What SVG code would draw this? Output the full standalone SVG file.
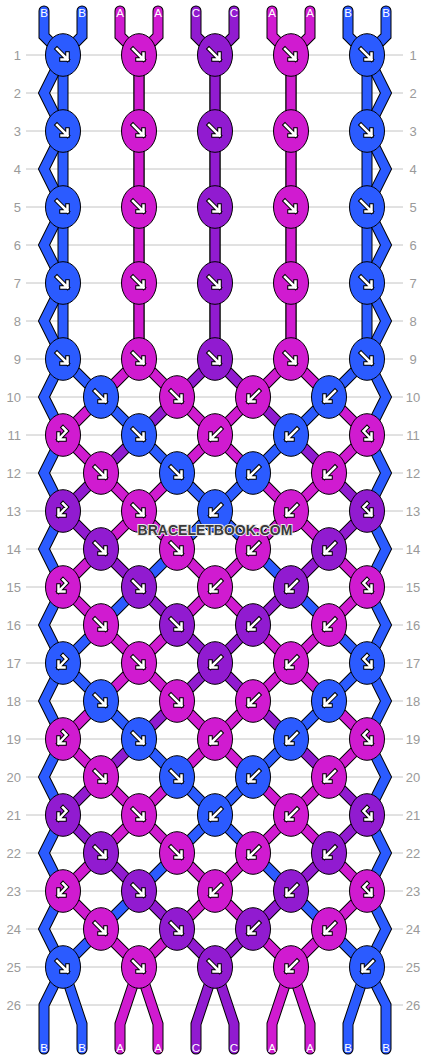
<svg xmlns="http://www.w3.org/2000/svg" xmlns:xlink="http://www.w3.org/1999/xlink" width="430" height="1060" viewBox="0 0 430 1060">
<style>
.grid line{stroke:#c4c4c4;stroke-width:1}
.rn{font-family:"Liberation Sans",Arial,sans-serif;font-size:13px;fill:#9a9a9a}
.rl{text-anchor:end}
.rr{text-anchor:middle}
.so{fill:none;stroke:#000;stroke-width:11;stroke-linejoin:miter;stroke-linecap:round}
.cB,.cA,.cC{fill:none;stroke-width:9;stroke-linejoin:miter;stroke-linecap:round}
.cB{stroke:#2b5bff}.cA{stroke:#d01bd0}.cC{stroke:#911bd0}
.kB,.kA,.kC{stroke:#000;stroke-width:1}
.kB{fill:#2b5bff}.kA{fill:#d01bd0}.kC{fill:#911bd0}
.ao{fill:none;stroke:#000;stroke-width:4.5;stroke-linecap:square;stroke-linejoin:miter}
.ai{fill:none;stroke:#fff;stroke-width:2.5;stroke-linecap:square;stroke-linejoin:miter}
.lb{font-family:"Liberation Sans",Arial,sans-serif;font-size:11.5px;fill:#fff;text-anchor:middle}
.wm{font-family:"Liberation Sans",Arial,sans-serif;font-size:14px;font-weight:bold;fill:#3a3a3a;stroke:#e8e8e8;stroke-width:2;paint-order:stroke;text-anchor:middle}
</style>
<defs>
<path id="pf" d="M-6,-6L4.5,4.5M4.5,-1.5V4.5H-1.5"/>
<path id="pb" d="M6,-6L-4.5,4.5M-4.5,-1.5V4.5H1.5"/>
<path id="pbf" d="M0,-7.5L3.5,-4L-4.5,4.5M-4.5,-1.5V4.5H1.5"/>
<path id="pfb" d="M0,-7.5L-3.5,-4L4.5,4.5M4.5,-1.5V4.5H-1.5"/>
<g id="f"><use href="#pf" class="ao"/><use href="#pf" class="ai"/></g>
<g id="b"><use href="#pb" class="ao"/><use href="#pb" class="ai"/></g>
<g id="bf"><use href="#pbf" class="ao"/><use href="#pbf" class="ai"/></g>
<g id="fb"><use href="#pfb" class="ao"/><use href="#pfb" class="ai"/></g>
<polyline id="t1" points="44,11 44,36 63,55 44,93 63,131 44,169 63,207 44,245 63,283 44,321 63,359 44,397 63,435 44,473 63,511 44,549 63,587 44,625 63,663 44,701 63,739 44,777 63,815 44,853 63,891 44,929 63,967 44,1005 44,1049"/>
<polyline id="t10" points="386,11 386,36 367,55 386,93 367,131 386,169 367,207 386,245 367,283 386,321 367,359 386,397 367,435 386,473 367,511 386,549 367,587 386,625 367,663 386,701 367,739 386,777 367,815 386,853 367,891 386,929 367,967 386,1005 386,1049"/>
<polyline id="t2" points="82,11 82,36 63,55 63,359 101,397 139,435 177,473 215,511 177,549 139,587 101,625 63,663 101,701 139,739 177,777 215,815 177,853 139,891 101,929 63,967 82,1024 82,1049"/>
<polyline id="t9" points="348,11 348,36 367,55 367,359 329,397 291,435 253,473 215,511 253,549 291,587 329,625 367,663 329,701 291,739 253,777 215,815 253,853 291,891 329,929 367,967 348,1024 348,1049"/>
<polyline id="t3" points="120,11 120,36 139,55 139,359 101,397 63,435 101,473 139,511 101,549 63,587 101,625 139,663 101,701 63,739 101,777 139,815 101,853 63,891 101,929 139,967 120,1024 120,1049"/>
<polyline id="t8" points="310,11 310,36 291,55 291,359 329,397 367,435 329,473 291,511 329,549 367,587 329,625 291,663 329,701 367,739 329,777 291,815 329,853 367,891 329,929 291,967 310,1024 310,1049"/>
<polyline id="t4" points="158,11 158,36 139,55 139,359 177,397 215,435 177,473 139,511 177,549 215,587 177,625 139,663 177,701 215,739 177,777 139,815 177,853 215,891 177,929 139,967 158,1024 158,1049"/>
<polyline id="t7" points="272,11 272,36 291,55 291,359 253,397 215,435 253,473 291,511 253,549 215,587 253,625 291,663 253,701 215,739 253,777 291,815 253,853 215,891 253,929 291,967 272,1024 272,1049"/>
<polyline id="t5" points="196,11 196,36 215,55 215,359 177,397 139,435 101,473 63,511 101,549 139,587 177,625 215,663 177,701 139,739 101,777 63,815 101,853 139,891 177,929 215,967 196,1024 196,1049"/>
<polyline id="t6" points="234,11 234,36 215,55 215,359 253,397 291,435 329,473 367,511 329,549 291,587 253,625 215,663 253,701 291,739 329,777 367,815 329,853 291,891 253,929 215,967 234,1024 234,1049"/>
</defs>
<rect width="430" height="1060" fill="#fff"/>
<g class="grid">
<line x1="26" y1="55" x2="403" y2="55"/><line x1="26" y1="93" x2="403" y2="93"/><line x1="26" y1="131" x2="403" y2="131"/><line x1="26" y1="169" x2="403" y2="169"/><line x1="26" y1="207" x2="403" y2="207"/><line x1="26" y1="245" x2="403" y2="245"/><line x1="26" y1="283" x2="403" y2="283"/><line x1="26" y1="321" x2="403" y2="321"/><line x1="26" y1="359" x2="403" y2="359"/><line x1="26" y1="397" x2="403" y2="397"/><line x1="26" y1="435" x2="403" y2="435"/><line x1="26" y1="473" x2="403" y2="473"/><line x1="26" y1="511" x2="403" y2="511"/><line x1="26" y1="549" x2="403" y2="549"/><line x1="26" y1="587" x2="403" y2="587"/><line x1="26" y1="625" x2="403" y2="625"/><line x1="26" y1="663" x2="403" y2="663"/><line x1="26" y1="701" x2="403" y2="701"/><line x1="26" y1="739" x2="403" y2="739"/><line x1="26" y1="777" x2="403" y2="777"/><line x1="26" y1="815" x2="403" y2="815"/><line x1="26" y1="853" x2="403" y2="853"/><line x1="26" y1="891" x2="403" y2="891"/><line x1="26" y1="929" x2="403" y2="929"/><line x1="26" y1="967" x2="403" y2="967"/><line x1="26" y1="1005" x2="403" y2="1005"/>
</g>
<g class="rn">
<text class="rl" x="21" y="59.6">1</text><text class="rl" x="21" y="97.6">2</text><text class="rl" x="21" y="135.6">3</text><text class="rl" x="21" y="173.6">4</text><text class="rl" x="21" y="211.6">5</text><text class="rl" x="21" y="249.6">6</text><text class="rl" x="21" y="287.6">7</text><text class="rl" x="21" y="325.6">8</text><text class="rl" x="21" y="363.6">9</text><text class="rl" x="21" y="401.6">10</text><text class="rl" x="21" y="439.6">11</text><text class="rl" x="21" y="477.6">12</text><text class="rl" x="21" y="515.6">13</text><text class="rl" x="21" y="553.6">14</text><text class="rl" x="21" y="591.6">15</text><text class="rl" x="21" y="629.6">16</text><text class="rl" x="21" y="667.6">17</text><text class="rl" x="21" y="705.6">18</text><text class="rl" x="21" y="743.6">19</text><text class="rl" x="21" y="781.6">20</text><text class="rl" x="21" y="819.6">21</text><text class="rl" x="21" y="857.6">22</text><text class="rl" x="21" y="895.6">23</text><text class="rl" x="21" y="933.6">24</text><text class="rl" x="21" y="971.6">25</text><text class="rl" x="21" y="1009.6">26</text>
<text class="rr" x="413" y="59.6">1</text><text class="rr" x="413" y="97.6">2</text><text class="rr" x="413" y="135.6">3</text><text class="rr" x="413" y="173.6">4</text><text class="rr" x="413" y="211.6">5</text><text class="rr" x="413" y="249.6">6</text><text class="rr" x="413" y="287.6">7</text><text class="rr" x="413" y="325.6">8</text><text class="rr" x="413" y="363.6">9</text><text class="rr" x="413" y="401.6">10</text><text class="rr" x="413" y="439.6">11</text><text class="rr" x="413" y="477.6">12</text><text class="rr" x="413" y="515.6">13</text><text class="rr" x="413" y="553.6">14</text><text class="rr" x="413" y="591.6">15</text><text class="rr" x="413" y="629.6">16</text><text class="rr" x="413" y="667.6">17</text><text class="rr" x="413" y="705.6">18</text><text class="rr" x="413" y="743.6">19</text><text class="rr" x="413" y="781.6">20</text><text class="rr" x="413" y="819.6">21</text><text class="rr" x="413" y="857.6">22</text><text class="rr" x="413" y="895.6">23</text><text class="rr" x="413" y="933.6">24</text><text class="rr" x="413" y="971.6">25</text><text class="rr" x="413" y="1009.6">26</text>
</g>
<g id="connectors">
<use href="#t5" class="so"/><use href="#t5" class="cC"/>
<use href="#t6" class="so"/><use href="#t6" class="cC"/>
<use href="#t4" class="so"/><use href="#t4" class="cA"/>
<use href="#t7" class="so"/><use href="#t7" class="cA"/>
<use href="#t3" class="so"/><use href="#t3" class="cA"/>
<use href="#t8" class="so"/><use href="#t8" class="cA"/>
<use href="#t2" class="so"/><use href="#t2" class="cB"/>
<use href="#t9" class="so"/><use href="#t9" class="cB"/>
<use href="#t1" class="so"/><use href="#t1" class="cB"/>
<use href="#t10" class="so"/><use href="#t10" class="cB"/>
</g>
<g id="strand-labels" class="lb">
<text x="44" y="17">B</text><text x="82" y="17">B</text><text x="120" y="17">A</text><text x="158" y="17">A</text><text x="196" y="17">C</text><text x="234" y="17">C</text><text x="272" y="17">A</text><text x="310" y="17">A</text><text x="348" y="17">B</text><text x="386" y="17">B</text>
<text x="44" y="1052">B</text><text x="82" y="1052">B</text><text x="120" y="1052">A</text><text x="158" y="1052">A</text><text x="196" y="1052">C</text><text x="234" y="1052">C</text><text x="272" y="1052">A</text><text x="310" y="1052">A</text><text x="348" y="1052">B</text><text x="386" y="1052">B</text>
</g>
<g id="knots">
<g id="k1-1"><ellipse class="kB" cx="63" cy="55" rx="17.5" ry="21.3"/><use href="#f" x="63" y="55"/></g>
<g id="k1-2"><ellipse class="kA" cx="139" cy="55" rx="17.5" ry="21.3"/><use href="#f" x="139" y="55"/></g>
<g id="k1-3"><ellipse class="kC" cx="215" cy="55" rx="17.5" ry="21.3"/><use href="#f" x="215" y="55"/></g>
<g id="k1-4"><ellipse class="kA" cx="291" cy="55" rx="17.5" ry="21.3"/><use href="#f" x="291" y="55"/></g>
<g id="k1-5"><ellipse class="kB" cx="367" cy="55" rx="17.5" ry="21.3"/><use href="#f" x="367" y="55"/></g>
<g id="k3-1"><ellipse class="kB" cx="63" cy="131" rx="17.5" ry="21.3"/><use href="#f" x="63" y="131"/></g>
<g id="k3-2"><ellipse class="kA" cx="139" cy="131" rx="17.5" ry="21.3"/><use href="#f" x="139" y="131"/></g>
<g id="k3-3"><ellipse class="kC" cx="215" cy="131" rx="17.5" ry="21.3"/><use href="#f" x="215" y="131"/></g>
<g id="k3-4"><ellipse class="kA" cx="291" cy="131" rx="17.5" ry="21.3"/><use href="#f" x="291" y="131"/></g>
<g id="k3-5"><ellipse class="kB" cx="367" cy="131" rx="17.5" ry="21.3"/><use href="#f" x="367" y="131"/></g>
<g id="k5-1"><ellipse class="kB" cx="63" cy="207" rx="17.5" ry="21.3"/><use href="#f" x="63" y="207"/></g>
<g id="k5-2"><ellipse class="kA" cx="139" cy="207" rx="17.5" ry="21.3"/><use href="#f" x="139" y="207"/></g>
<g id="k5-3"><ellipse class="kC" cx="215" cy="207" rx="17.5" ry="21.3"/><use href="#f" x="215" y="207"/></g>
<g id="k5-4"><ellipse class="kA" cx="291" cy="207" rx="17.5" ry="21.3"/><use href="#f" x="291" y="207"/></g>
<g id="k5-5"><ellipse class="kB" cx="367" cy="207" rx="17.5" ry="21.3"/><use href="#f" x="367" y="207"/></g>
<g id="k7-1"><ellipse class="kB" cx="63" cy="283" rx="17.5" ry="21.3"/><use href="#f" x="63" y="283"/></g>
<g id="k7-2"><ellipse class="kA" cx="139" cy="283" rx="17.5" ry="21.3"/><use href="#f" x="139" y="283"/></g>
<g id="k7-3"><ellipse class="kC" cx="215" cy="283" rx="17.5" ry="21.3"/><use href="#f" x="215" y="283"/></g>
<g id="k7-4"><ellipse class="kA" cx="291" cy="283" rx="17.5" ry="21.3"/><use href="#f" x="291" y="283"/></g>
<g id="k7-5"><ellipse class="kB" cx="367" cy="283" rx="17.5" ry="21.3"/><use href="#f" x="367" y="283"/></g>
<g id="k9-1"><ellipse class="kB" cx="63" cy="359" rx="17.5" ry="21.3"/><use href="#f" x="63" y="359"/></g>
<g id="k9-2"><ellipse class="kA" cx="139" cy="359" rx="17.5" ry="21.3"/><use href="#f" x="139" y="359"/></g>
<g id="k9-3"><ellipse class="kC" cx="215" cy="359" rx="17.5" ry="21.3"/><use href="#f" x="215" y="359"/></g>
<g id="k9-4"><ellipse class="kA" cx="291" cy="359" rx="17.5" ry="21.3"/><use href="#f" x="291" y="359"/></g>
<g id="k9-5"><ellipse class="kB" cx="367" cy="359" rx="17.5" ry="21.3"/><use href="#f" x="367" y="359"/></g>
<g id="k10-1"><ellipse class="kB" cx="101" cy="397" rx="17.5" ry="21.3"/><use href="#f" x="101" y="397"/></g>
<g id="k10-2"><ellipse class="kA" cx="177" cy="397" rx="17.5" ry="21.3"/><use href="#f" x="177" y="397"/></g>
<g id="k10-3"><ellipse class="kA" cx="253" cy="397" rx="17.5" ry="21.3"/><use href="#b" x="253" y="397"/></g>
<g id="k10-4"><ellipse class="kB" cx="329" cy="397" rx="17.5" ry="21.3"/><use href="#b" x="329" y="397"/></g>
<g id="k11-1"><ellipse class="kA" cx="63" cy="435" rx="17.5" ry="21.3"/><use href="#bf" x="63" y="435"/></g>
<g id="k11-2"><ellipse class="kB" cx="139" cy="435" rx="17.5" ry="21.3"/><use href="#f" x="139" y="435"/></g>
<g id="k11-3"><ellipse class="kA" cx="215" cy="435" rx="17.5" ry="21.3"/><use href="#b" x="215" y="435"/></g>
<g id="k11-4"><ellipse class="kB" cx="291" cy="435" rx="17.5" ry="21.3"/><use href="#b" x="291" y="435"/></g>
<g id="k11-5"><ellipse class="kA" cx="367" cy="435" rx="17.5" ry="21.3"/><use href="#fb" x="367" y="435"/></g>
<g id="k12-1"><ellipse class="kA" cx="101" cy="473" rx="17.5" ry="21.3"/><use href="#f" x="101" y="473"/></g>
<g id="k12-2"><ellipse class="kB" cx="177" cy="473" rx="17.5" ry="21.3"/><use href="#f" x="177" y="473"/></g>
<g id="k12-3"><ellipse class="kB" cx="253" cy="473" rx="17.5" ry="21.3"/><use href="#b" x="253" y="473"/></g>
<g id="k12-4"><ellipse class="kA" cx="329" cy="473" rx="17.5" ry="21.3"/><use href="#b" x="329" y="473"/></g>
<g id="k13-1"><ellipse class="kC" cx="63" cy="511" rx="17.5" ry="21.3"/><use href="#bf" x="63" y="511"/></g>
<g id="k13-2"><ellipse class="kA" cx="139" cy="511" rx="17.5" ry="21.3"/><use href="#f" x="139" y="511"/></g>
<g id="k13-3"><ellipse class="kB" cx="215" cy="511" rx="17.5" ry="21.3"/><use href="#b" x="215" y="511"/></g>
<g id="k13-4"><ellipse class="kA" cx="291" cy="511" rx="17.5" ry="21.3"/><use href="#b" x="291" y="511"/></g>
<g id="k13-5"><ellipse class="kC" cx="367" cy="511" rx="17.5" ry="21.3"/><use href="#fb" x="367" y="511"/></g>
<g id="k14-1"><ellipse class="kC" cx="101" cy="549" rx="17.5" ry="21.3"/><use href="#f" x="101" y="549"/></g>
<g id="k14-2"><ellipse class="kA" cx="177" cy="549" rx="17.5" ry="21.3"/><use href="#f" x="177" y="549"/></g>
<g id="k14-3"><ellipse class="kA" cx="253" cy="549" rx="17.5" ry="21.3"/><use href="#b" x="253" y="549"/></g>
<g id="k14-4"><ellipse class="kC" cx="329" cy="549" rx="17.5" ry="21.3"/><use href="#b" x="329" y="549"/></g>
<g id="k15-1"><ellipse class="kA" cx="63" cy="587" rx="17.5" ry="21.3"/><use href="#bf" x="63" y="587"/></g>
<g id="k15-2"><ellipse class="kC" cx="139" cy="587" rx="17.5" ry="21.3"/><use href="#f" x="139" y="587"/></g>
<g id="k15-3"><ellipse class="kA" cx="215" cy="587" rx="17.5" ry="21.3"/><use href="#b" x="215" y="587"/></g>
<g id="k15-4"><ellipse class="kC" cx="291" cy="587" rx="17.5" ry="21.3"/><use href="#b" x="291" y="587"/></g>
<g id="k15-5"><ellipse class="kA" cx="367" cy="587" rx="17.5" ry="21.3"/><use href="#fb" x="367" y="587"/></g>
<g id="k16-1"><ellipse class="kA" cx="101" cy="625" rx="17.5" ry="21.3"/><use href="#f" x="101" y="625"/></g>
<g id="k16-2"><ellipse class="kC" cx="177" cy="625" rx="17.5" ry="21.3"/><use href="#f" x="177" y="625"/></g>
<g id="k16-3"><ellipse class="kC" cx="253" cy="625" rx="17.5" ry="21.3"/><use href="#b" x="253" y="625"/></g>
<g id="k16-4"><ellipse class="kA" cx="329" cy="625" rx="17.5" ry="21.3"/><use href="#b" x="329" y="625"/></g>
<g id="k17-1"><ellipse class="kB" cx="63" cy="663" rx="17.5" ry="21.3"/><use href="#bf" x="63" y="663"/></g>
<g id="k17-2"><ellipse class="kA" cx="139" cy="663" rx="17.5" ry="21.3"/><use href="#f" x="139" y="663"/></g>
<g id="k17-3"><ellipse class="kC" cx="215" cy="663" rx="17.5" ry="21.3"/><use href="#b" x="215" y="663"/></g>
<g id="k17-4"><ellipse class="kA" cx="291" cy="663" rx="17.5" ry="21.3"/><use href="#b" x="291" y="663"/></g>
<g id="k17-5"><ellipse class="kB" cx="367" cy="663" rx="17.5" ry="21.3"/><use href="#fb" x="367" y="663"/></g>
<g id="k18-1"><ellipse class="kB" cx="101" cy="701" rx="17.5" ry="21.3"/><use href="#f" x="101" y="701"/></g>
<g id="k18-2"><ellipse class="kA" cx="177" cy="701" rx="17.5" ry="21.3"/><use href="#f" x="177" y="701"/></g>
<g id="k18-3"><ellipse class="kA" cx="253" cy="701" rx="17.5" ry="21.3"/><use href="#b" x="253" y="701"/></g>
<g id="k18-4"><ellipse class="kB" cx="329" cy="701" rx="17.5" ry="21.3"/><use href="#b" x="329" y="701"/></g>
<g id="k19-1"><ellipse class="kA" cx="63" cy="739" rx="17.5" ry="21.3"/><use href="#bf" x="63" y="739"/></g>
<g id="k19-2"><ellipse class="kB" cx="139" cy="739" rx="17.5" ry="21.3"/><use href="#f" x="139" y="739"/></g>
<g id="k19-3"><ellipse class="kA" cx="215" cy="739" rx="17.5" ry="21.3"/><use href="#b" x="215" y="739"/></g>
<g id="k19-4"><ellipse class="kB" cx="291" cy="739" rx="17.5" ry="21.3"/><use href="#b" x="291" y="739"/></g>
<g id="k19-5"><ellipse class="kA" cx="367" cy="739" rx="17.5" ry="21.3"/><use href="#fb" x="367" y="739"/></g>
<g id="k20-1"><ellipse class="kA" cx="101" cy="777" rx="17.5" ry="21.3"/><use href="#f" x="101" y="777"/></g>
<g id="k20-2"><ellipse class="kB" cx="177" cy="777" rx="17.5" ry="21.3"/><use href="#f" x="177" y="777"/></g>
<g id="k20-3"><ellipse class="kB" cx="253" cy="777" rx="17.5" ry="21.3"/><use href="#b" x="253" y="777"/></g>
<g id="k20-4"><ellipse class="kA" cx="329" cy="777" rx="17.5" ry="21.3"/><use href="#b" x="329" y="777"/></g>
<g id="k21-1"><ellipse class="kC" cx="63" cy="815" rx="17.5" ry="21.3"/><use href="#bf" x="63" y="815"/></g>
<g id="k21-2"><ellipse class="kA" cx="139" cy="815" rx="17.5" ry="21.3"/><use href="#f" x="139" y="815"/></g>
<g id="k21-3"><ellipse class="kB" cx="215" cy="815" rx="17.5" ry="21.3"/><use href="#b" x="215" y="815"/></g>
<g id="k21-4"><ellipse class="kA" cx="291" cy="815" rx="17.5" ry="21.3"/><use href="#b" x="291" y="815"/></g>
<g id="k21-5"><ellipse class="kC" cx="367" cy="815" rx="17.5" ry="21.3"/><use href="#fb" x="367" y="815"/></g>
<g id="k22-1"><ellipse class="kC" cx="101" cy="853" rx="17.5" ry="21.3"/><use href="#f" x="101" y="853"/></g>
<g id="k22-2"><ellipse class="kA" cx="177" cy="853" rx="17.5" ry="21.3"/><use href="#f" x="177" y="853"/></g>
<g id="k22-3"><ellipse class="kA" cx="253" cy="853" rx="17.5" ry="21.3"/><use href="#b" x="253" y="853"/></g>
<g id="k22-4"><ellipse class="kC" cx="329" cy="853" rx="17.5" ry="21.3"/><use href="#b" x="329" y="853"/></g>
<g id="k23-1"><ellipse class="kA" cx="63" cy="891" rx="17.5" ry="21.3"/><use href="#bf" x="63" y="891"/></g>
<g id="k23-2"><ellipse class="kC" cx="139" cy="891" rx="17.5" ry="21.3"/><use href="#f" x="139" y="891"/></g>
<g id="k23-3"><ellipse class="kA" cx="215" cy="891" rx="17.5" ry="21.3"/><use href="#b" x="215" y="891"/></g>
<g id="k23-4"><ellipse class="kC" cx="291" cy="891" rx="17.5" ry="21.3"/><use href="#b" x="291" y="891"/></g>
<g id="k23-5"><ellipse class="kA" cx="367" cy="891" rx="17.5" ry="21.3"/><use href="#fb" x="367" y="891"/></g>
<g id="k24-1"><ellipse class="kA" cx="101" cy="929" rx="17.5" ry="21.3"/><use href="#f" x="101" y="929"/></g>
<g id="k24-2"><ellipse class="kC" cx="177" cy="929" rx="17.5" ry="21.3"/><use href="#f" x="177" y="929"/></g>
<g id="k24-3"><ellipse class="kC" cx="253" cy="929" rx="17.5" ry="21.3"/><use href="#b" x="253" y="929"/></g>
<g id="k24-4"><ellipse class="kA" cx="329" cy="929" rx="17.5" ry="21.3"/><use href="#b" x="329" y="929"/></g>
<g id="k25-1"><ellipse class="kB" cx="63" cy="967" rx="17.5" ry="21.3"/><use href="#f" x="63" y="967"/></g>
<g id="k25-2"><ellipse class="kA" cx="139" cy="967" rx="17.5" ry="21.3"/><use href="#f" x="139" y="967"/></g>
<g id="k25-3"><ellipse class="kC" cx="215" cy="967" rx="17.5" ry="21.3"/><use href="#f" x="215" y="967"/></g>
<g id="k25-4"><ellipse class="kA" cx="291" cy="967" rx="17.5" ry="21.3"/><use href="#b" x="291" y="967"/></g>
<g id="k25-5"><ellipse class="kB" cx="367" cy="967" rx="17.5" ry="21.3"/><use href="#b" x="367" y="967"/></g>
</g>
<text class="wm" x="215" y="535">BRACELETBOOK.COM</text>
</svg>
